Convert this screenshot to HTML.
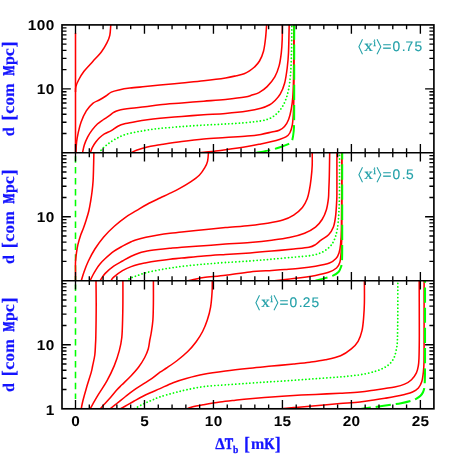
<!DOCTYPE html>
<html><head><meta charset="utf-8"><title>chart</title>
<style>html,body{margin:0;padding:0;background:#fff;}svg{display:block;will-change:transform}text{text-rendering:geometricPrecision}</style>
</head><body>
<svg width="458" height="458" viewBox="0 0 458 458">
<rect width="458" height="458" fill="#fff"/>
<defs>
<clipPath id="c0"><rect x="62.0" y="24.9" width="371.9" height="127.85"/></clipPath>
<clipPath id="c1"><rect x="62.0" y="152.75" width="371.9" height="127.94999999999999"/></clipPath>
<clipPath id="c2"><rect x="62.0" y="280.7" width="371.9" height="128.10000000000002"/></clipPath>
</defs>
<g clip-path="url(#c0)" fill="none" stroke-width="1.55" stroke-linejoin="round">
<path d="M75.50,33.00 C75.50,42.50 75.50,70.00 75.50,90.00 C75.50,110.00 75.50,142.50 75.50,153.00" stroke="#ff0000"/>
<path d="M110.90,24.00 C110.87,24.33 110.88,24.12 110.70,26.00 C110.52,27.88 110.43,32.48 109.80,35.30 C109.17,38.12 108.28,40.17 106.90,42.90 C105.52,45.63 103.85,48.60 101.50,51.70 C99.15,54.80 95.72,58.23 92.80,61.50 C89.88,64.77 86.37,68.22 84.00,71.30 C81.63,74.38 79.95,77.45 78.60,80.00 C77.25,82.55 76.42,84.60 75.90,86.60 C75.38,88.60 75.57,91.10 75.50,92.00" stroke="#ff0000"/>
<path d="M75.90,153.00 C76.02,151.17 76.23,145.28 76.60,142.00 C76.97,138.72 77.35,136.63 78.10,133.30 C78.85,129.97 79.73,125.73 81.10,122.00 C82.47,118.27 84.35,114.02 86.30,110.90 C88.25,107.78 90.63,105.12 92.80,103.30 C94.97,101.48 97.12,101.22 99.30,100.00 C101.48,98.78 103.90,97.32 105.90,96.00 C107.90,94.68 109.12,93.12 111.30,92.10 C113.48,91.08 115.90,90.57 119.00,89.90 C122.10,89.23 125.53,88.65 129.90,88.10 C134.27,87.55 140.18,87.10 145.20,86.60 C150.22,86.10 153.90,85.72 160.00,85.10 C166.10,84.48 174.52,83.63 181.80,82.90 C189.08,82.17 196.42,81.53 203.70,80.70 C210.98,79.87 220.05,78.73 225.50,77.90 C230.95,77.07 233.30,76.40 236.40,75.70 C239.50,75.00 241.92,74.52 244.10,73.70 C246.28,72.88 247.77,71.92 249.50,70.80 C251.23,69.68 252.83,68.63 254.50,67.00 C256.17,65.37 258.00,63.63 259.50,61.00 C261.00,58.37 262.50,54.95 263.50,51.20 C264.50,47.45 264.97,43.03 265.50,38.50 C266.03,33.97 266.50,26.42 266.70,24.00" stroke="#ff0000"/>
<path d="M82.50,153.00 C82.80,151.67 83.45,147.65 84.30,145.00 C85.15,142.35 86.28,139.62 87.60,137.10 C88.92,134.58 90.57,132.08 92.20,129.90 C93.83,127.72 95.77,125.55 97.40,124.00 C99.03,122.45 100.73,121.50 102.00,120.60 C103.27,119.70 103.77,119.43 105.00,118.60 C106.23,117.77 107.95,116.63 109.40,115.60 C110.85,114.57 112.10,113.30 113.70,112.40 C115.30,111.50 116.08,110.88 119.00,110.20 C121.92,109.52 126.87,108.87 131.20,108.30 C135.53,107.73 140.20,107.38 145.00,106.80 C149.80,106.22 153.87,105.43 160.00,104.80 C166.13,104.17 174.52,103.60 181.80,103.00 C189.08,102.40 196.42,101.80 203.70,101.20 C210.98,100.60 218.62,100.08 225.50,99.40 C232.38,98.72 240.58,97.82 245.00,97.10 C249.42,96.38 249.67,95.85 252.00,95.10 C254.33,94.35 256.48,94.02 259.00,92.60 C261.52,91.18 264.47,89.23 267.10,86.60 C269.73,83.97 272.80,80.25 274.80,76.80 C276.80,73.35 278.02,69.90 279.10,65.90 C280.18,61.90 280.78,57.17 281.30,52.80 C281.82,48.43 282.02,44.50 282.20,39.70 C282.38,34.90 282.37,26.62 282.40,24.00" stroke="#ff0000"/>
<path d="M90.20,153.00 C90.55,152.10 91.40,149.38 92.30,147.60 C93.20,145.82 94.40,143.93 95.60,142.30 C96.80,140.67 98.03,139.22 99.50,137.80 C100.97,136.38 102.43,135.00 104.40,133.80 C106.37,132.60 109.05,131.87 111.30,130.60 C113.55,129.33 115.53,127.37 117.90,126.20 C120.27,125.03 122.42,124.40 125.50,123.60 C128.58,122.80 132.77,122.05 136.40,121.40 C140.03,120.75 143.37,120.22 147.30,119.70 C151.23,119.18 154.25,118.85 160.00,118.30 C165.75,117.75 174.52,116.98 181.80,116.40 C189.08,115.82 196.42,115.28 203.70,114.80 C210.98,114.32 218.23,114.12 225.50,113.50 C232.77,112.88 241.40,111.97 247.30,111.10 C253.20,110.23 257.17,109.37 260.90,108.30 C264.63,107.23 267.43,105.92 269.70,104.70 C271.97,103.48 272.75,102.75 274.50,101.00 C276.25,99.25 278.52,97.15 280.20,94.20 C281.88,91.25 283.43,87.67 284.60,83.30 C285.77,78.93 286.55,73.08 287.20,68.00 C287.85,62.92 288.17,60.13 288.50,52.80 C288.83,45.47 289.08,28.80 289.20,24.00" stroke="#ff0000"/>
<path d="M131.00,153.00 C131.90,152.53 133.68,151.22 136.40,150.20 C139.12,149.18 143.37,147.80 147.30,146.90 C151.23,146.00 154.25,145.70 160.00,144.80 C165.75,143.90 174.52,142.48 181.80,141.50 C189.08,140.52 196.42,139.57 203.70,138.90 C210.98,138.23 218.23,137.97 225.50,137.50 C232.77,137.03 241.40,136.62 247.30,136.10 C253.20,135.58 256.82,135.08 260.90,134.40 C264.98,133.72 268.73,132.70 271.80,132.00 C274.87,131.30 277.18,131.10 279.30,130.20 C281.42,129.30 282.95,128.38 284.50,126.60 C286.05,124.82 287.47,122.43 288.60,119.50 C289.73,116.57 290.60,112.75 291.30,109.00 C292.00,105.25 292.43,101.83 292.80,97.00 C293.17,92.17 293.33,87.83 293.50,80.00 C293.67,72.17 293.75,59.33 293.80,50.00 C293.85,40.67 293.80,28.33 293.80,24.00" stroke="#ff0000"/>
<path d="M191.00,153.70 C193.17,153.47 200.07,152.72 204.00,152.30 C207.93,151.88 211.02,151.62 214.60,151.20 C218.18,150.78 220.05,150.58 225.50,149.80 C230.95,149.02 241.40,147.48 247.30,146.50 C253.20,145.52 256.82,144.73 260.90,143.90 C264.98,143.07 268.73,142.23 271.80,141.50 C274.87,140.77 276.95,140.27 279.30,139.50 C281.65,138.73 284.15,137.98 285.90,136.90 C287.65,135.82 288.75,134.90 289.80,133.00 C290.85,131.10 291.62,128.55 292.20,125.50 C292.78,122.45 293.03,118.95 293.30,114.70 C293.57,110.45 293.68,109.12 293.80,100.00 C293.92,90.88 293.97,72.67 294.00,60.00 C294.03,47.33 294.00,30.00 294.00,24.00" stroke="#ff0000"/>
<path d="M99.00,153.00 C99.58,152.27 100.82,150.25 102.50,148.60 C104.18,146.95 106.72,144.82 109.10,143.10 C111.48,141.38 114.07,139.75 116.80,138.30 C119.53,136.85 122.23,135.45 125.50,134.40 C128.77,133.35 132.77,132.72 136.40,132.00 C140.03,131.28 143.37,130.70 147.30,130.10 C151.23,129.50 154.25,128.98 160.00,128.40 C165.75,127.82 174.52,127.15 181.80,126.60 C189.08,126.05 196.42,125.53 203.70,125.10 C210.98,124.67 218.23,124.43 225.50,124.00 C232.77,123.57 241.40,123.02 247.30,122.50 C253.20,121.98 257.17,121.57 260.90,120.90 C264.63,120.23 267.15,119.62 269.70,118.50 C272.25,117.38 274.23,115.95 276.20,114.20 C278.17,112.45 279.98,110.23 281.50,108.00 C283.02,105.77 284.13,103.82 285.30,100.80 C286.47,97.78 287.63,94.27 288.50,89.90 C289.37,85.53 290.00,80.78 290.50,74.60 C291.00,68.42 291.28,61.23 291.50,52.80 C291.72,44.37 291.75,28.80 291.80,24.00" stroke="#00ff00" stroke-dasharray="0.01 3.5" stroke-linecap="round" stroke-width="1.8"/>
<path d="M256.50,152.80 C258.87,152.33 266.78,150.92 270.70,150.00 C274.62,149.08 277.28,148.18 280.00,147.30 C282.72,146.42 285.23,145.48 287.00,144.70 C288.77,143.92 289.70,143.47 290.60,142.60 C291.50,141.73 291.90,141.27 292.40,139.50 C292.90,137.73 293.32,134.58 293.60,132.00 C293.88,129.42 294.00,129.33 294.10,124.00 C294.20,118.67 294.18,110.67 294.20,100.00 C294.22,89.33 294.20,72.67 294.20,60.00 C294.20,47.33 294.20,30.00 294.20,24.00" stroke="#00ff00" stroke-dasharray="15.2 4.9" stroke-dashoffset="1.3" stroke-width="2.0"/>
</g>
<g clip-path="url(#c1)" fill="none" stroke-width="1.55" stroke-linejoin="round">
<path d="M75.50,156.20 L75.50,281.00" stroke="#00ff00" stroke-dasharray="6.5 4.4"/>
<path d="M93.90,152.00 C93.85,154.25 93.73,160.70 93.60,165.50 C93.47,170.30 93.37,176.38 93.10,180.80 C92.83,185.22 92.42,188.55 92.00,192.00 C91.58,195.45 91.13,198.33 90.60,201.50 C90.07,204.67 89.53,207.92 88.80,211.00 C88.07,214.08 87.12,217.08 86.20,220.00 C85.28,222.92 84.22,226.00 83.30,228.50 C82.38,231.00 81.60,232.32 80.70,235.00 C79.80,237.68 78.62,241.55 77.90,244.60 C77.18,247.65 76.80,250.40 76.40,253.30 C76.00,256.20 75.65,259.22 75.50,262.00 C75.35,264.78 75.50,266.83 75.50,270.00 C75.50,273.17 75.50,279.17 75.50,281.00" stroke="#ff0000"/>
<path d="M208.50,152.00 C208.35,153.52 208.22,158.48 207.60,161.10 C206.98,163.72 206.18,165.33 204.80,167.70 C203.42,170.07 201.67,172.93 199.30,175.30 C196.93,177.67 193.87,179.72 190.60,181.90 C187.33,184.08 183.35,186.40 179.70,188.40 C176.05,190.40 171.98,192.30 168.70,193.90 C165.42,195.50 163.57,196.28 160.00,198.00 C156.43,199.72 151.23,202.08 147.30,204.20 C143.37,206.32 140.03,208.52 136.40,210.70 C132.77,212.88 129.13,214.75 125.50,217.30 C121.87,219.85 118.23,222.73 114.60,226.00 C110.97,229.27 106.98,233.07 103.70,236.90 C100.42,240.73 97.45,244.98 94.90,249.00 C92.35,253.02 90.22,257.18 88.40,261.00 C86.58,264.82 85.20,268.57 84.00,271.90 C82.80,275.23 81.67,279.48 81.20,281.00" stroke="#ff0000"/>
<path d="M312.20,152.00 C312.20,154.25 312.38,161.07 312.20,165.50 C312.02,169.93 311.57,174.52 311.10,178.60 C310.63,182.68 310.05,186.65 309.40,190.00 C308.75,193.35 308.37,195.78 307.20,198.70 C306.03,201.62 304.65,204.77 302.40,207.50 C300.15,210.23 296.97,213.00 293.70,215.10 C290.43,217.20 287.17,218.75 282.80,220.10 C278.43,221.45 272.97,222.32 267.50,223.20 C262.03,224.08 257.00,224.67 250.00,225.40 C243.00,226.13 233.22,226.88 225.50,227.60 C217.78,228.32 210.98,228.95 203.70,229.70 C196.42,230.45 187.42,231.50 181.80,232.10 C176.18,232.70 173.95,232.82 170.00,233.30 C166.05,233.78 162.12,234.33 158.10,235.00 C154.08,235.67 149.65,236.47 145.90,237.30 C142.15,238.13 138.05,239.27 135.60,240.00 C133.15,240.73 133.38,240.68 131.20,241.70 C129.02,242.72 125.42,244.48 122.50,246.10 C119.58,247.72 116.62,249.28 113.70,251.40 C110.78,253.52 107.28,256.70 105.00,258.80 C102.72,260.90 101.47,262.25 100.00,264.00 C98.53,265.75 97.38,267.47 96.20,269.30 C95.02,271.13 93.95,273.05 92.90,275.00 C91.85,276.95 90.40,280.00 89.90,281.00" stroke="#ff0000"/>
<path d="M329.70,152.00 C329.63,156.07 329.45,170.07 329.30,176.40 C329.15,182.73 328.95,186.28 328.80,190.00 C328.65,193.72 328.80,195.42 328.40,198.70 C328.00,201.98 327.45,206.23 326.40,209.70 C325.35,213.17 323.92,216.60 322.10,219.50 C320.28,222.40 318.42,224.82 315.50,227.10 C312.58,229.38 308.97,231.45 304.60,233.20 C300.23,234.95 294.77,236.43 289.30,237.60 C283.83,238.77 278.35,239.40 271.80,240.20 C265.25,241.00 257.72,241.75 250.00,242.40 C242.28,243.05 233.22,243.55 225.50,244.10 C217.78,244.65 210.98,245.18 203.70,245.70 C196.42,246.22 187.42,246.77 181.80,247.20 C176.18,247.63 173.95,247.90 170.00,248.30 C166.05,248.70 162.27,249.08 158.10,249.60 C153.93,250.12 148.03,250.88 145.00,251.40 C141.97,251.92 142.20,251.90 139.90,252.70 C137.60,253.50 134.10,254.82 131.20,256.20 C128.30,257.58 125.42,259.33 122.50,261.00 C119.58,262.67 116.62,264.10 113.70,266.20 C110.78,268.30 107.32,271.13 105.00,273.60 C102.68,276.07 100.67,279.77 99.80,281.00" stroke="#ff0000"/>
<path d="M336.90,152.00 C336.90,158.33 336.93,181.85 336.90,190.00 C336.87,198.15 336.92,196.53 336.70,200.90 C336.48,205.27 336.15,211.83 335.60,216.20 C335.05,220.57 334.57,224.00 333.40,227.10 C332.23,230.20 330.67,232.62 328.60,234.80 C326.53,236.98 323.18,238.57 321.00,240.20 C318.82,241.83 317.50,243.43 315.50,244.60 C313.50,245.77 312.63,246.47 309.00,247.20 C305.37,247.93 299.90,248.35 293.70,249.00 C287.50,249.65 279.08,250.45 271.80,251.10 C264.52,251.75 257.72,252.35 250.00,252.90 C242.28,253.45 233.22,253.90 225.50,254.40 C217.78,254.90 210.98,255.28 203.70,255.90 C196.42,256.52 187.42,257.55 181.80,258.10 C176.18,258.65 173.95,258.75 170.00,259.20 C166.05,259.65 162.27,260.18 158.10,260.80 C153.93,261.42 148.03,262.37 145.00,262.90 C141.97,263.43 142.20,263.38 139.90,264.00 C137.60,264.62 134.10,265.50 131.20,266.60 C128.30,267.70 125.42,268.85 122.50,270.60 C119.58,272.35 115.65,275.37 113.70,277.10 C111.75,278.83 111.28,280.35 110.80,281.00" stroke="#ff0000"/>
<path d="M341.70,152.00 C341.70,158.33 341.75,177.12 341.70,190.00 C341.65,202.88 341.58,220.30 341.40,229.30 C341.22,238.30 341.00,240.05 340.60,244.00 C340.20,247.95 339.77,250.58 339.00,253.00 C338.23,255.42 337.58,256.83 336.00,258.50 C334.42,260.17 332.92,261.72 329.50,263.00 C326.08,264.28 320.42,265.32 315.50,266.20 C310.58,267.08 305.08,267.75 300.00,268.30 C294.92,268.85 289.70,269.15 285.00,269.50 C280.30,269.85 277.63,270.00 271.80,270.40 C265.97,270.80 257.72,271.10 250.00,271.90 C242.28,272.70 233.22,274.27 225.50,275.20 C217.78,276.13 208.78,276.83 203.70,277.50 C198.62,278.17 198.12,278.55 195.00,279.20 C191.88,279.85 186.67,281.03 185.00,281.40" stroke="#ff0000"/>
<path d="M341.90,152.00 C341.88,165.00 341.85,214.93 341.80,230.00 C341.75,245.07 341.73,238.40 341.60,242.40 C341.47,246.40 341.30,250.65 341.00,254.00 C340.70,257.35 340.55,260.17 339.80,262.50 C339.05,264.83 338.37,266.37 336.50,268.00 C334.63,269.63 332.10,271.07 328.60,272.30 C325.10,273.53 321.32,274.37 315.50,275.40 C309.68,276.43 301.95,277.47 293.70,278.50 C285.45,279.53 270.62,281.08 266.00,281.60" stroke="#ff0000"/>
<path d="M339.50,152.00 C339.50,158.33 339.60,180.03 339.50,190.00 C339.40,199.97 339.27,205.25 338.90,211.80 C338.53,218.35 338.10,224.57 337.30,229.30 C336.50,234.03 335.37,237.28 334.10,240.20 C332.83,243.12 331.70,244.80 329.70,246.80 C327.70,248.80 325.20,250.75 322.10,252.20 C319.00,253.65 315.83,254.67 311.10,255.50 C306.37,256.33 300.25,256.58 293.70,257.20 C287.15,257.82 279.08,258.57 271.80,259.20 C264.52,259.83 257.72,260.45 250.00,261.00 C242.28,261.55 233.22,261.97 225.50,262.50 C217.78,263.03 210.98,263.55 203.70,264.20 C196.42,264.85 187.42,265.75 181.80,266.40 C176.18,267.05 173.95,267.48 170.00,268.10 C166.05,268.72 162.12,269.33 158.10,270.10 C154.08,270.87 149.47,271.75 145.90,272.70 C142.33,273.65 139.25,274.90 136.70,275.80 C134.15,276.70 132.23,277.30 130.60,278.10 C128.97,278.90 127.52,280.18 126.90,280.60" stroke="#00ff00" stroke-dasharray="0.01 3.5" stroke-linecap="round" stroke-width="1.8"/>
<path d="M315.50,280.60 C316.95,280.23 321.28,279.23 324.20,278.40 C327.12,277.57 330.62,276.67 333.00,275.60 C335.38,274.53 337.17,273.43 338.50,272.00 C339.83,270.57 340.43,268.67 341.00,267.00 C341.57,265.33 341.70,264.83 341.90,262.00 C342.10,259.17 342.15,260.33 342.20,250.00 C342.25,239.67 342.20,216.33 342.20,200.00 C342.20,183.67 342.20,160.00 342.20,152.00" stroke="#00ff00" stroke-dasharray="15.2 4.9" stroke-dashoffset="2.8" stroke-width="2.0"/>
</g>
<g clip-path="url(#c2)" fill="none" stroke-width="1.55" stroke-linejoin="round">
<path d="M75.50,284.60 L75.50,399.00" stroke="#00ff00" stroke-dasharray="6.5 4.4" stroke-dashoffset="0"/>
<path d="M96.00,280.00 C96.03,283.80 96.18,296.13 96.20,302.80 C96.22,309.47 96.17,314.22 96.10,320.00 C96.03,325.78 95.90,333.47 95.80,337.50 C95.70,341.53 95.67,341.28 95.50,344.20 C95.33,347.12 95.28,351.37 94.80,355.00 C94.32,358.63 93.20,363.10 92.60,366.00 C92.00,368.90 92.22,368.78 91.20,372.40 C90.18,376.02 87.88,382.97 86.50,387.70 C85.12,392.43 83.78,397.25 82.90,400.80 C82.02,404.35 81.48,407.63 81.20,409.00" stroke="#ff0000"/>
<path d="M122.90,280.00 C122.90,283.80 122.95,296.13 122.90,302.80 C122.85,309.47 122.78,314.22 122.60,320.00 C122.42,325.78 122.35,332.40 121.80,337.50 C121.25,342.60 120.57,345.87 119.30,350.60 C118.03,355.33 116.28,360.82 114.20,365.90 C112.12,370.98 109.40,376.38 106.80,381.10 C104.20,385.82 100.93,390.37 98.60,394.20 C96.27,398.03 94.22,401.63 92.80,404.10 C91.38,406.57 90.55,408.18 90.10,409.00" stroke="#ff0000"/>
<path d="M153.40,280.00 C153.40,283.80 153.48,296.13 153.40,302.80 C153.32,309.47 153.27,314.97 152.90,320.00 C152.53,325.03 151.72,329.67 151.20,333.00 C150.68,336.33 150.28,337.38 149.80,340.00 C149.32,342.62 149.15,345.78 148.30,348.70 C147.45,351.62 146.33,354.40 144.70,357.50 C143.07,360.60 140.80,364.22 138.50,367.30 C136.20,370.38 133.67,373.08 130.90,376.00 C128.13,378.92 124.18,382.55 121.90,384.80 C119.62,387.05 119.10,387.38 117.20,389.50 C115.30,391.62 112.70,394.98 110.50,397.50 C108.30,400.02 105.75,402.63 104.00,404.60 C102.25,406.57 100.67,408.52 100.00,409.30" stroke="#ff0000"/>
<path d="M212.30,280.00 C212.27,281.97 212.38,287.28 212.10,291.80 C211.82,296.32 211.40,302.38 210.60,307.10 C209.80,311.82 208.63,316.03 207.30,320.10 C205.97,324.17 204.48,327.85 202.60,331.50 C200.72,335.15 198.52,338.62 196.00,342.00 C193.48,345.38 190.63,348.72 187.50,351.80 C184.37,354.88 180.70,357.80 177.20,360.50 C173.70,363.20 169.37,366.05 166.50,368.00 C163.63,369.95 162.47,370.43 160.00,372.20 C157.53,373.97 154.53,376.60 151.70,378.60 C148.87,380.60 145.92,382.32 143.00,384.20 C140.08,386.08 137.12,387.85 134.20,389.90 C131.28,391.95 128.40,394.23 125.50,396.50 C122.60,398.77 119.42,401.42 116.80,403.50 C114.18,405.58 110.97,408.08 109.80,409.00" stroke="#ff0000"/>
<path d="M364.40,280.00 C364.40,283.80 364.53,296.47 364.40,302.80 C364.27,309.13 364.00,313.37 363.60,318.00 C363.20,322.63 362.92,326.72 362.00,330.60 C361.08,334.48 359.88,338.25 358.10,341.30 C356.32,344.35 354.22,346.48 351.30,348.90 C348.38,351.32 344.93,353.98 340.60,355.80 C336.27,357.62 330.40,358.73 325.30,359.80 C320.20,360.87 315.27,361.50 310.00,362.20 C304.73,362.90 300.07,363.35 293.70,364.00 C287.33,364.65 279.08,365.40 271.80,366.10 C264.52,366.80 257.72,367.38 250.00,368.20 C242.28,369.02 233.22,369.98 225.50,371.00 C217.78,372.02 210.25,373.05 203.70,374.30 C197.15,375.55 191.30,377.10 186.20,378.50 C181.10,379.90 177.47,381.02 173.10,382.70 C168.73,384.38 163.57,387.02 160.00,388.60 C156.43,390.18 154.53,390.93 151.70,392.20 C148.87,393.47 145.92,394.73 143.00,396.20 C140.08,397.67 137.12,399.37 134.20,401.00 C131.28,402.63 127.95,404.62 125.50,406.00 C123.05,407.38 120.50,408.75 119.50,409.30" stroke="#ff0000"/>
<path d="M419.20,280.00 C419.22,286.67 419.28,310.00 419.30,320.00 C419.32,330.00 419.35,333.67 419.30,340.00 C419.25,346.33 419.17,353.67 419.00,358.00 C418.83,362.33 418.73,363.53 418.30,366.00 C417.87,368.47 417.53,370.52 416.40,372.80 C415.27,375.08 413.47,377.82 411.50,379.70 C409.53,381.58 407.38,382.88 404.60,384.10 C401.82,385.32 398.07,386.27 394.80,387.00 C391.53,387.73 388.25,388.02 385.00,388.50 C381.75,388.98 379.47,389.32 375.30,389.90 C371.13,390.48 365.88,391.45 360.00,392.00 C354.12,392.55 347.42,392.80 340.00,393.20 C332.58,393.60 323.22,394.02 315.50,394.40 C307.78,394.78 300.98,395.07 293.70,395.50 C286.42,395.93 279.08,396.47 271.80,397.00 C264.52,397.53 256.08,398.17 250.00,398.70 C243.92,399.23 240.30,399.65 235.30,400.20 C230.30,400.75 225.27,401.25 220.00,402.00 C214.73,402.75 208.37,403.87 203.70,404.70 C199.03,405.53 195.03,406.23 192.00,407.00 C188.97,407.77 186.58,408.92 185.50,409.30" stroke="#ff0000"/>
<path d="M424.10,280.00 C424.10,286.67 424.10,310.00 424.10,320.00 C424.10,330.00 424.12,333.00 424.10,340.00 C424.08,347.00 424.12,356.70 424.00,362.00 C423.88,367.30 423.77,368.53 423.40,371.80 C423.03,375.07 422.63,378.90 421.80,381.60 C420.97,384.30 419.95,386.27 418.40,388.00 C416.85,389.73 414.80,390.93 412.50,392.00 C410.20,393.07 407.55,393.63 404.60,394.40 C401.65,395.17 398.07,395.95 394.80,396.60 C391.53,397.25 388.25,397.77 385.00,398.30 C381.75,398.83 379.47,399.20 375.30,399.80 C371.13,400.40 365.88,401.27 360.00,401.90 C354.12,402.53 347.42,402.97 340.00,403.60 C332.58,404.23 323.22,405.03 315.50,405.70 C307.78,406.37 300.78,406.98 293.70,407.60 C286.62,408.22 276.45,409.10 273.00,409.40" stroke="#ff0000"/>
<path d="M397.80,280.00 C397.80,285.62 397.83,305.37 397.80,313.70 C397.77,322.03 397.67,325.62 397.60,330.00 C397.53,334.38 397.55,337.07 397.40,340.00 C397.25,342.93 397.20,344.80 396.70,347.60 C396.20,350.40 395.42,354.25 394.40,356.80 C393.38,359.35 392.25,361.12 390.60,362.90 C388.95,364.68 387.05,366.10 384.50,367.50 C381.95,368.90 379.00,370.15 375.30,371.30 C371.60,372.45 366.52,373.62 362.30,374.40 C358.08,375.18 354.17,375.53 350.00,376.00 C345.83,376.47 343.05,376.75 337.30,377.20 C331.55,377.65 322.77,378.18 315.50,378.70 C308.23,379.22 300.98,379.80 293.70,380.30 C286.42,380.80 279.08,381.22 271.80,381.70 C264.52,382.18 257.72,382.68 250.00,383.20 C242.28,383.72 233.22,384.23 225.50,384.80 C217.78,385.37 210.25,385.75 203.70,386.60 C197.15,387.45 191.30,388.82 186.20,389.90 C181.10,390.98 177.47,391.93 173.10,393.10 C168.73,394.27 163.57,395.70 160.00,396.90 C156.43,398.10 154.53,399.10 151.70,400.30 C148.87,401.50 145.92,402.67 143.00,404.10 C140.08,405.53 135.67,408.10 134.20,408.90" stroke="#00ff00" stroke-dasharray="0.01 3.5" stroke-linecap="round" stroke-width="1.8"/>
<path d="M360.50,409.10 C364.37,408.55 376.93,406.78 383.70,405.80 C390.47,404.82 396.55,404.02 401.10,403.20 C405.65,402.38 408.43,401.67 411.00,400.90 C413.57,400.13 414.92,399.45 416.50,398.60 C418.08,397.75 419.42,396.87 420.50,395.80 C421.58,394.73 422.37,393.50 423.00,392.20 C423.63,390.90 424.00,389.87 424.30,388.00 C424.60,386.13 424.68,384.83 424.80,381.00 C424.92,377.17 424.97,375.17 425.00,365.00 C425.03,354.83 425.00,334.17 425.00,320.00 C425.00,305.83 425.00,286.67 425.00,280.00" stroke="#00ff00" stroke-dasharray="15.2 4.9" stroke-dashoffset="4.8" stroke-width="2.1"/>
</g>
<g stroke="#000" stroke-width="1.65" fill="none" stroke-linecap="butt">
<rect x="62.0" y="24.9" width="371.9" height="383.90000000000003"/>
<path d="M62.0,152.75H433.9M62.0,280.7H433.9"/>
</g>
<path d="M75.50,24.9v8.8M75.50,143.95v17.6M75.50,271.9v17.6M75.50,408.8v-8.8M89.30,24.9v4.4M89.30,148.35v8.8M89.30,276.3v8.8M89.30,408.8v-4.4M103.09,24.9v4.4M103.09,148.35v8.8M103.09,276.3v8.8M103.09,408.8v-4.4M116.88,24.9v4.4M116.88,148.35v8.8M116.88,276.3v8.8M116.88,408.8v-4.4M130.68,24.9v4.4M130.68,148.35v8.8M130.68,276.3v8.8M130.68,408.8v-4.4M144.47,24.9v8.8M144.47,143.95v17.6M144.47,271.9v17.6M144.47,408.8v-8.8M158.27,24.9v4.4M158.27,148.35v8.8M158.27,276.3v8.8M158.27,408.8v-4.4M172.06,24.9v4.4M172.06,148.35v8.8M172.06,276.3v8.8M172.06,408.8v-4.4M185.86,24.9v4.4M185.86,148.35v8.8M185.86,276.3v8.8M185.86,408.8v-4.4M199.66,24.9v4.4M199.66,148.35v8.8M199.66,276.3v8.8M199.66,408.8v-4.4M213.45,24.9v8.8M213.45,143.95v17.6M213.45,271.9v17.6M213.45,408.8v-8.8M227.25,24.9v4.4M227.25,148.35v8.8M227.25,276.3v8.8M227.25,408.8v-4.4M241.04,24.9v4.4M241.04,148.35v8.8M241.04,276.3v8.8M241.04,408.8v-4.4M254.84,24.9v4.4M254.84,148.35v8.8M254.84,276.3v8.8M254.84,408.8v-4.4M268.63,24.9v4.4M268.63,148.35v8.8M268.63,276.3v8.8M268.63,408.8v-4.4M282.43,24.9v8.8M282.43,143.95v17.6M282.43,271.9v17.6M282.43,408.8v-8.8M296.22,24.9v4.4M296.22,148.35v8.8M296.22,276.3v8.8M296.22,408.8v-4.4M310.01,24.9v4.4M310.01,148.35v8.8M310.01,276.3v8.8M310.01,408.8v-4.4M323.81,24.9v4.4M323.81,148.35v8.8M323.81,276.3v8.8M323.81,408.8v-4.4M337.61,24.9v4.4M337.61,148.35v8.8M337.61,276.3v8.8M337.61,408.8v-4.4M351.40,24.9v8.8M351.40,143.95v17.6M351.40,271.9v17.6M351.40,408.8v-8.8M365.19,24.9v4.4M365.19,148.35v8.8M365.19,276.3v8.8M365.19,408.8v-4.4M378.99,24.9v4.4M378.99,148.35v8.8M378.99,276.3v8.8M378.99,408.8v-4.4M392.79,24.9v4.4M392.79,148.35v8.8M392.79,276.3v8.8M392.79,408.8v-4.4M406.58,24.9v4.4M406.58,148.35v8.8M406.58,276.3v8.8M406.58,408.8v-4.4M420.38,24.9v8.8M420.38,143.95v17.6M420.38,271.9v17.6M420.38,408.8v-8.8M62.0,133.51h4.5M433.9,133.51h-4.5M62.0,122.25h4.5M433.9,122.25h-4.5M62.0,114.26h4.5M433.9,114.26h-4.5M62.0,108.07h4.5M433.9,108.07h-4.5M62.0,103.01h4.5M433.9,103.01h-4.5M62.0,98.73h4.5M433.9,98.73h-4.5M62.0,95.02h4.5M433.9,95.02h-4.5M62.0,91.75h4.5M433.9,91.75h-4.5M62.0,88.83h8.8M433.9,88.83h-8.8M62.0,69.58h4.5M433.9,69.58h-4.5M62.0,58.33h4.5M433.9,58.33h-4.5M62.0,50.34h4.5M433.9,50.34h-4.5M62.0,44.14h4.5M433.9,44.14h-4.5M62.0,39.08h4.5M433.9,39.08h-4.5M62.0,34.80h4.5M433.9,34.80h-4.5M62.0,31.09h4.5M433.9,31.09h-4.5M62.0,27.83h4.5M433.9,27.83h-4.5M62.0,261.44h4.5M433.9,261.44h-4.5M62.0,250.18h4.5M433.9,250.18h-4.5M62.0,242.18h4.5M433.9,242.18h-4.5M62.0,235.98h4.5M433.9,235.98h-4.5M62.0,230.92h4.5M433.9,230.92h-4.5M62.0,226.63h4.5M433.9,226.63h-4.5M62.0,222.92h4.5M433.9,222.92h-4.5M62.0,219.65h4.5M433.9,219.65h-4.5M62.0,216.72h8.8M433.9,216.72h-8.8M62.0,197.47h4.5M433.9,197.47h-4.5M62.0,186.20h4.5M433.9,186.20h-4.5M62.0,178.21h4.5M433.9,178.21h-4.5M62.0,172.01h4.5M433.9,172.01h-4.5M62.0,166.94h4.5M433.9,166.94h-4.5M62.0,162.66h4.5M433.9,162.66h-4.5M62.0,158.95h4.5M433.9,158.95h-4.5M62.0,155.68h4.5M433.9,155.68h-4.5M62.0,389.52h4.5M433.9,389.52h-4.5M62.0,378.24h4.5M433.9,378.24h-4.5M62.0,370.24h4.5M433.9,370.24h-4.5M62.0,364.03h4.5M433.9,364.03h-4.5M62.0,358.96h4.5M433.9,358.96h-4.5M62.0,354.67h4.5M433.9,354.67h-4.5M62.0,350.96h4.5M433.9,350.96h-4.5M62.0,347.68h4.5M433.9,347.68h-4.5M62.0,344.75h8.8M433.9,344.75h-8.8M62.0,325.47h4.5M433.9,325.47h-4.5M62.0,314.19h4.5M433.9,314.19h-4.5M62.0,306.19h4.5M433.9,306.19h-4.5M62.0,299.98h4.5M433.9,299.98h-4.5M62.0,294.91h4.5M433.9,294.91h-4.5M62.0,290.62h4.5M433.9,290.62h-4.5M62.0,286.91h4.5M433.9,286.91h-4.5M62.0,283.63h4.5M433.9,283.63h-4.5" stroke="#000" stroke-width="1.35" fill="none"/>
<text transform="translate(54.60,30.10) scale(1.075,1)" text-anchor="end" letter-spacing="0.34" font-family="Liberation Sans, sans-serif" font-weight="bold" font-size="14.3px" fill="#000">100</text>
<text transform="translate(54.60,93.90) scale(1.075,1)" text-anchor="end" letter-spacing="0.34" font-family="Liberation Sans, sans-serif" font-weight="bold" font-size="14.3px" fill="#000">10</text>
<text transform="translate(54.60,221.75) scale(1.075,1)" text-anchor="end" letter-spacing="0.34" font-family="Liberation Sans, sans-serif" font-weight="bold" font-size="14.3px" fill="#000">10</text>
<text transform="translate(54.60,349.70) scale(1.075,1)" text-anchor="end" letter-spacing="0.34" font-family="Liberation Sans, sans-serif" font-weight="bold" font-size="14.3px" fill="#000">10</text>
<text transform="translate(54.60,414.60) scale(1.075,1)" text-anchor="end" letter-spacing="0.34" font-family="Liberation Sans, sans-serif" font-weight="bold" font-size="14.3px" fill="#000">1</text>
<text transform="translate(75.70,426.20) scale(1.075,1)" text-anchor="middle" letter-spacing="0.34" font-family="Liberation Sans, sans-serif" font-weight="bold" font-size="14.3px" fill="#000">0</text>
<text transform="translate(144.67,426.20) scale(1.075,1)" text-anchor="middle" letter-spacing="0.34" font-family="Liberation Sans, sans-serif" font-weight="bold" font-size="14.3px" fill="#000">5</text>
<text transform="translate(213.65,426.20) scale(1.075,1)" text-anchor="middle" letter-spacing="0.34" font-family="Liberation Sans, sans-serif" font-weight="bold" font-size="14.3px" fill="#000">10</text>
<text transform="translate(282.62,426.20) scale(1.075,1)" text-anchor="middle" letter-spacing="0.34" font-family="Liberation Sans, sans-serif" font-weight="bold" font-size="14.3px" fill="#000">15</text>
<text transform="translate(351.60,426.20) scale(1.075,1)" text-anchor="middle" letter-spacing="0.34" font-family="Liberation Sans, sans-serif" font-weight="bold" font-size="14.3px" fill="#000">20</text>
<text transform="translate(420.57,426.20) scale(1.075,1)" text-anchor="middle" letter-spacing="0.34" font-family="Liberation Sans, sans-serif" font-weight="bold" font-size="14.3px" fill="#000">25</text>
<g font-family="Liberation Serif, serif" font-weight="bold" fill="#1414ff">
<g transform="translate(14.3,135.53) rotate(-90)">
<text x="-0.64" y="0.00" font-size="16.2px" textLength="8.94" lengthAdjust="spacingAndGlyphs" stroke="#1414ff" stroke-width="0.17" stroke-linejoin="round">d</text>
<text x="15.15" y="0.55" font-size="18.9px" textLength="5.94" lengthAdjust="spacingAndGlyphs" stroke="#1414ff" stroke-width="0.26" stroke-linejoin="round">[</text>
<text x="21.75" y="0.00" font-size="16.2px" textLength="8.19" lengthAdjust="spacingAndGlyphs" stroke="#1414ff" stroke-width="0.15" stroke-linejoin="round">c</text>
<text x="30.04" y="0.00" font-size="16.2px" textLength="8.47" lengthAdjust="spacingAndGlyphs" stroke="#1414ff" stroke-width="0.15" stroke-linejoin="round">o</text>
<text x="38.58" y="0.00" font-size="16.2px" textLength="13.43" lengthAdjust="spacingAndGlyphs" stroke="#1414ff" stroke-width="0.16" stroke-linejoin="round">m</text>
<text x="60.00" y="0.00" font-size="16.2px" textLength="9.85" lengthAdjust="spacingAndGlyphs" stroke="#1414ff" stroke-width="0.86" stroke-linejoin="round">M</text>
<text x="70.44" y="0.00" font-size="16.2px" textLength="8.83" lengthAdjust="spacingAndGlyphs" stroke="#1414ff" stroke-width="0.19" stroke-linejoin="round">p</text>
<text x="79.25" y="0.00" font-size="16.2px" textLength="8.19" lengthAdjust="spacingAndGlyphs" stroke="#1414ff" stroke-width="0.15" stroke-linejoin="round">c</text>
<text x="87.95" y="0.55" font-size="18.9px" textLength="6.08" lengthAdjust="spacingAndGlyphs" stroke="#1414ff" stroke-width="0.22" stroke-linejoin="round">]</text>
</g>
<g transform="translate(14.3,263.43) rotate(-90)">
<text x="-0.64" y="0.00" font-size="16.2px" textLength="8.94" lengthAdjust="spacingAndGlyphs" stroke="#1414ff" stroke-width="0.17" stroke-linejoin="round">d</text>
<text x="15.15" y="0.55" font-size="18.9px" textLength="5.94" lengthAdjust="spacingAndGlyphs" stroke="#1414ff" stroke-width="0.26" stroke-linejoin="round">[</text>
<text x="21.75" y="0.00" font-size="16.2px" textLength="8.19" lengthAdjust="spacingAndGlyphs" stroke="#1414ff" stroke-width="0.15" stroke-linejoin="round">c</text>
<text x="30.04" y="0.00" font-size="16.2px" textLength="8.47" lengthAdjust="spacingAndGlyphs" stroke="#1414ff" stroke-width="0.15" stroke-linejoin="round">o</text>
<text x="38.58" y="0.00" font-size="16.2px" textLength="13.43" lengthAdjust="spacingAndGlyphs" stroke="#1414ff" stroke-width="0.16" stroke-linejoin="round">m</text>
<text x="60.00" y="0.00" font-size="16.2px" textLength="9.85" lengthAdjust="spacingAndGlyphs" stroke="#1414ff" stroke-width="0.86" stroke-linejoin="round">M</text>
<text x="70.44" y="0.00" font-size="16.2px" textLength="8.83" lengthAdjust="spacingAndGlyphs" stroke="#1414ff" stroke-width="0.19" stroke-linejoin="round">p</text>
<text x="79.25" y="0.00" font-size="16.2px" textLength="8.19" lengthAdjust="spacingAndGlyphs" stroke="#1414ff" stroke-width="0.15" stroke-linejoin="round">c</text>
<text x="87.95" y="0.55" font-size="18.9px" textLength="6.08" lengthAdjust="spacingAndGlyphs" stroke="#1414ff" stroke-width="0.22" stroke-linejoin="round">]</text>
</g>
<g transform="translate(14.3,391.45) rotate(-90)">
<text x="-0.64" y="0.00" font-size="16.2px" textLength="8.94" lengthAdjust="spacingAndGlyphs" stroke="#1414ff" stroke-width="0.17" stroke-linejoin="round">d</text>
<text x="15.15" y="0.55" font-size="18.9px" textLength="5.94" lengthAdjust="spacingAndGlyphs" stroke="#1414ff" stroke-width="0.26" stroke-linejoin="round">[</text>
<text x="21.75" y="0.00" font-size="16.2px" textLength="8.19" lengthAdjust="spacingAndGlyphs" stroke="#1414ff" stroke-width="0.15" stroke-linejoin="round">c</text>
<text x="30.04" y="0.00" font-size="16.2px" textLength="8.47" lengthAdjust="spacingAndGlyphs" stroke="#1414ff" stroke-width="0.15" stroke-linejoin="round">o</text>
<text x="38.58" y="0.00" font-size="16.2px" textLength="13.43" lengthAdjust="spacingAndGlyphs" stroke="#1414ff" stroke-width="0.16" stroke-linejoin="round">m</text>
<text x="60.00" y="0.00" font-size="16.2px" textLength="9.85" lengthAdjust="spacingAndGlyphs" stroke="#1414ff" stroke-width="0.86" stroke-linejoin="round">M</text>
<text x="70.44" y="0.00" font-size="16.2px" textLength="8.83" lengthAdjust="spacingAndGlyphs" stroke="#1414ff" stroke-width="0.19" stroke-linejoin="round">p</text>
<text x="79.25" y="0.00" font-size="16.2px" textLength="8.19" lengthAdjust="spacingAndGlyphs" stroke="#1414ff" stroke-width="0.15" stroke-linejoin="round">c</text>
<text x="87.95" y="0.55" font-size="18.9px" textLength="6.08" lengthAdjust="spacingAndGlyphs" stroke="#1414ff" stroke-width="0.22" stroke-linejoin="round">]</text>
</g>
<text x="215.35" y="449.05" font-size="16.2px" textLength="9.51" lengthAdjust="spacingAndGlyphs" stroke="#1414ff" stroke-width="0.28" stroke-linejoin="round">Δ</text>
<text x="224.87" y="449.05" font-size="16.2px" textLength="8.41" lengthAdjust="spacingAndGlyphs" stroke="#1414ff" stroke-width="0.59" stroke-linejoin="round">T</text>
<text x="232.90" y="452.80" font-size="10.4px" textLength="5.34" lengthAdjust="spacingAndGlyphs" stroke="#1414ff" stroke-width="0.30" stroke-linejoin="round">b</text>
<text x="244.05" y="449.50" font-size="18.9px" textLength="5.94" lengthAdjust="spacingAndGlyphs" stroke="#1414ff" stroke-width="0.26" stroke-linejoin="round">[</text>
<text x="251.08" y="449.05" font-size="16.2px" textLength="13.33" lengthAdjust="spacingAndGlyphs" stroke="#1414ff" stroke-width="0.17" stroke-linejoin="round">m</text>
<text x="264.37" y="449.05" font-size="16.2px" textLength="10.34" lengthAdjust="spacingAndGlyphs" stroke="#1414ff" stroke-width="0.51" stroke-linejoin="round">K</text>
<text x="274.85" y="449.50" font-size="18.9px" textLength="6.08" lengthAdjust="spacingAndGlyphs" stroke="#1414ff" stroke-width="0.22" stroke-linejoin="round">]</text>
</g>
<g fill="#22a0a8" stroke="#22a0a8" stroke-width="0.14">
<path d="M362.5,39.3L358.9,46.8L362.5,54.3M377.0,39.3L380.8,46.8L377.0,54.3" fill="none" stroke="#22a0a8" stroke-width="1.05"/>
<text font-family="Liberation Serif, serif" x="364.2" y="51.2" font-size="15.6px" textLength="8.6" lengthAdjust="spacingAndGlyphs" stroke-width="0.22">x</text>
<text font-family="Liberation Serif, serif" x="373.2" y="46.4" font-size="9.6px" stroke-width="0.4">i</text>
<text font-family="Liberation Sans, sans-serif" x="382.6" y="51.2" font-size="13.8px" textLength="9.0" lengthAdjust="spacingAndGlyphs" stroke-width="0.15">=</text>
<text font-family="Liberation Sans, sans-serif" font-size="13.8px" x="392.4" y="51.2">0</text>
<text font-family="Liberation Sans, sans-serif" font-size="13.8px" x="401.8" y="51.2">.</text>
<text font-family="Liberation Sans, sans-serif" font-size="13.8px" x="405.6" y="51.2">7</text>
<text font-family="Liberation Sans, sans-serif" font-size="13.8px" x="414.5" y="51.2">5</text>
</g>
<g fill="#22a0a8" stroke="#22a0a8" stroke-width="0.14">
<path d="M362.5,167.2L358.9,174.7L362.5,182.2M377.0,167.2L380.8,174.7L377.0,182.2" fill="none" stroke="#22a0a8" stroke-width="1.05"/>
<text font-family="Liberation Serif, serif" x="364.2" y="179.1" font-size="15.6px" textLength="8.6" lengthAdjust="spacingAndGlyphs" stroke-width="0.22">x</text>
<text font-family="Liberation Serif, serif" x="373.2" y="174.2" font-size="9.6px" stroke-width="0.4">i</text>
<text font-family="Liberation Sans, sans-serif" x="382.6" y="179.1" font-size="13.8px" textLength="9.0" lengthAdjust="spacingAndGlyphs" stroke-width="0.15">=</text>
<text font-family="Liberation Sans, sans-serif" font-size="13.8px" x="392.4" y="179.1">0</text>
<text font-family="Liberation Sans, sans-serif" font-size="13.8px" x="401.8" y="179.1">.</text>
<text font-family="Liberation Sans, sans-serif" font-size="13.8px" x="406.1" y="179.1">5</text>
</g>
<g fill="#22a0a8" stroke="#22a0a8" stroke-width="0.14">
<path d="M259.5,295.2L255.9,302.7L259.5,310.2M274.0,295.2L277.8,302.7L274.0,310.2" fill="none" stroke="#22a0a8" stroke-width="1.05"/>
<text font-family="Liberation Serif, serif" x="261.2" y="307.1" font-size="15.6px" textLength="8.6" lengthAdjust="spacingAndGlyphs" stroke-width="0.22">x</text>
<text font-family="Liberation Serif, serif" x="270.2" y="302.3" font-size="9.6px" stroke-width="0.4">i</text>
<text font-family="Liberation Sans, sans-serif" x="279.6" y="307.1" font-size="13.8px" textLength="9.0" lengthAdjust="spacingAndGlyphs" stroke-width="0.15">=</text>
<text font-family="Liberation Sans, sans-serif" font-size="13.8px" x="289.4" y="307.1">0</text>
<text font-family="Liberation Sans, sans-serif" font-size="13.8px" x="298.8" y="307.1">.</text>
<text font-family="Liberation Sans, sans-serif" font-size="13.8px" x="302.8" y="307.1">2</text>
<text font-family="Liberation Sans, sans-serif" font-size="13.8px" x="311.5" y="307.1">5</text>
</g>
</svg>
</body></html>
